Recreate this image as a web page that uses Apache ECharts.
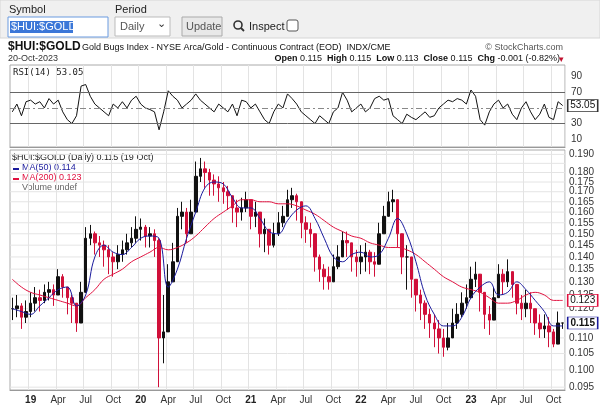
<!DOCTYPE html>
<html>
<head>
<meta charset="utf-8">
<script src="https://cdn.jsdelivr.net/npm/echarts@6/dist/echarts.min.js"></script>
<style>
  html, body { margin: 0; padding: 0; background: #fff; }
  #chart { width: 600px; height: 405px; }
</style>
</head>
<body>
<div id="chart"></div>
<script>
// semi-monthly samples, Nov 2018 .. Oct 2023, plus last bar 19 Oct
const closes = [
  0.120,0.121, 0.117,0.119,
  0.122,0.124, 0.123,0.126, 0.127,0.125, 0.132,0.128, 0.124,0.122, 0.115,0.126,
  0.148,0.150, 0.146,0.145, 0.143,0.140, 0.138,0.141, 0.143,0.146, 0.148,0.152,
  0.153,0.149, 0.150,0.147, 0.110,0.112, 0.130,0.138, 0.158,0.160, 0.150,0.160,
  0.178,0.182, 0.180,0.176, 0.174,0.172, 0.170,0.168, 0.162,0.160, 0.162,0.166,
  0.158,0.160, 0.150,0.152, 0.145,0.150, 0.155,0.158, 0.166,0.168, 0.165,0.155,
  0.152,0.150, 0.140,0.135, 0.132,0.130, 0.136,0.140, 0.147,0.146, 0.140,0.138,
  0.140,0.142, 0.138,0.137, 0.150,0.158, 0.165,0.166, 0.150,0.140, 0.140,0.131,
  0.125,0.122, 0.118,0.115, 0.113,0.110, 0.107,0.110, 0.115,0.118, 0.122,0.124,
  0.131,0.133, 0.126,0.118, 0.116,0.124, 0.133,0.130, 0.134,0.129, 0.122,0.120,
  0.122,0.120, 0.115,0.113, 0.114,0.112, 0.108,0.115, 0.115
];
const highs = [
  0.124,0.125, 0.122,0.123,
  0.126,0.128, 0.127,0.129, 0.130,0.129, 0.135,0.133, 0.128,0.125, 0.120,0.130,
  0.153,0.154, 0.151,0.149, 0.147,0.145, 0.142,0.145, 0.147,0.150, 0.153,0.158,
  0.157,0.154, 0.153,0.152, 0.148,0.125, 0.137,0.146, 0.162,0.165, 0.162,0.166,
  0.186,0.188, 0.186,0.182, 0.179,0.178, 0.175,0.173, 0.168,0.166, 0.167,0.170,
  0.166,0.165, 0.158,0.157, 0.151,0.155, 0.160,0.163, 0.171,0.172, 0.169,0.162,
  0.158,0.155, 0.147,0.141, 0.137,0.136, 0.141,0.145, 0.151,0.151, 0.146,0.143,
  0.145,0.146, 0.143,0.142, 0.155,0.163, 0.170,0.171, 0.158,0.146, 0.145,0.140,
  0.131,0.127, 0.123,0.120, 0.118,0.116, 0.113,0.115, 0.120,0.122, 0.126,0.129,
  0.136,0.138, 0.132,0.124, 0.121,0.128, 0.137,0.135, 0.139,0.134, 0.128,0.125,
  0.127,0.126, 0.120,0.118, 0.118,0.117, 0.113,0.119, 0.115
];
const lows = [
  0.116,0.117, 0.113,0.115,
  0.117,0.119, 0.119,0.122, 0.123,0.121, 0.126,0.124, 0.118,0.115, 0.112,0.116,
  0.133,0.145, 0.141,0.140, 0.136,0.133, 0.132,0.135, 0.138,0.141, 0.144,0.146,
  0.147,0.144, 0.144,0.140, 0.095,0.102, 0.115,0.130, 0.145,0.152, 0.146,0.150,
  0.161,0.175, 0.172,0.168, 0.168,0.165, 0.164,0.161, 0.155,0.153, 0.156,0.160,
  0.152,0.153, 0.144,0.142, 0.141,0.144, 0.149,0.153, 0.160,0.162, 0.156,0.148,
  0.146,0.144, 0.134,0.130, 0.127,0.127, 0.130,0.135, 0.141,0.140, 0.134,0.132,
  0.133,0.134, 0.133,0.132, 0.138,0.150, 0.159,0.160, 0.144,0.133, 0.127,0.124,
  0.119,0.116, 0.113,0.110, 0.107,0.105, 0.104,0.106, 0.110,0.113, 0.117,0.120,
  0.126,0.128, 0.119,0.113, 0.111,0.117, 0.126,0.125, 0.128,0.124, 0.118,0.116,
  0.117,0.115, 0.111,0.110, 0.110,0.107, 0.107,0.109, 0.113
];
// monthly moving averages, Nov 2018 .. Oct 2023
const ma50 = [
  0.120,0.119,
  0.118,0.121,0.124,0.127,0.128,0.121,0.125,0.140,0.145,0.142,0.141,0.144,
  0.148,0.149,0.148,0.128,0.135,0.148,0.160,0.172,0.175,0.174,0.167,0.162,
  0.162,0.157,0.151,0.150,0.156,0.161,0.163,0.157,0.148,0.140,0.138,0.141,
  0.142,0.140,0.141,0.148,0.157,0.150,0.138,0.125,0.118,0.114,0.114,0.117,
  0.124,0.128,0.130,0.125,0.126,0.130,0.127,0.123,0.119,0.114
];
const ma200 = [
  0.131,0.128,
  0.126,0.125,0.124,0.123,0.122,0.121,0.124,0.127,0.131,0.133,0.135,0.138,
  0.140,0.142,0.144,0.143,0.144,0.146,0.149,0.153,0.157,0.160,0.163,0.166,
  0.166,0.165,0.165,0.164,0.164,0.163,0.161,0.159,0.156,0.153,0.151,0.149,
  0.148,0.146,0.145,0.144,0.144,0.143,0.141,0.138,0.135,0.132,0.130,0.128,
  0.127,0.126,0.124,0.122,0.122,0.123,0.125,0.126,0.125,0.123
];
const rsi = [
  45,55, 40,58,
  60,55, 58,50, 62,55, 60,45, 35,30, 40,78, 80,65, 55,50, 45,40, 55,50, 58,50, 60,65,
  55,50, 48,45, 22,45, 72,65, 60,50, 55,60, 68,60, 55,50, 45,55, 50,45, 55,40, 60,58,
  50,55, 45,35, 30,45, 55,50, 68,62, 55,45, 40,35, 30,40, 35,30, 45,50, 70,60, 45,50,
  55,45, 50,62, 65,60, 62,40, 35,30, 42,38, 35,40, 45,38, 40,50, 55,60, 58,62, 60,55,
  73,65, 35,28, 45,55, 60,50, 55,42, 35,50, 58,45, 35,42, 55,38, 35,58, 53.05
];
const priceTicks = [0.095,0.100,0.105,0.110,0.120,0.125,0.130,0.135,0.140,0.145,0.150,0.155,0.160,0.165,0.170,0.175,0.180,0.185,0.190];
const gridTicks = [0.095,0.100,0.105,0.110,0.115,0.120,0.125,0.130,0.135,0.140,0.145,0.150,0.155,0.160,0.165,0.170,0.175,0.180,0.185,0.190];
const rsiTicks = [10,30,70,90];
const monthNames = ['Jan','Feb','Mar','Apr','May','Jun','Jul','Aug','Sep','Oct','Nov','Dec'];

const dates = [];
for (let y = 2018, m = 10; dates.length < closes.length - 1; ) {
  dates.push(y + '-' + (m + 1) + '-1', y + '-' + (m + 1) + '-15');
  m++; if (m === 12) { m = 0; y++; }
}
dates.push('2023-10-19');

const ohlc = closes.map((c, i) => [i ? closes[i - 1] : c, c, lows[i], highs[i]]);
const ma50Data = dates.map((d, i) => i % 2 === 0 ? ma50[i / 2] : null);
const ma200Data = dates.map((d, i) => i % 2 === 0 ? ma200[i / 2] : null);
ma50Data[dates.length - 1] = 0.114;
ma200Data[dates.length - 1] = 0.123;

function isQuarter(i) {
  const p = dates[i].split('-');
  return p[2] === '1' && (+p[1] - 1) % 3 === 0;
}

const chart = echarts.init(document.getElementById('chart'));
const f = 'Arial, "Liberation Sans", sans-serif';

const xBase = {
  type: 'category', data: dates, boundaryGap: true,
  axisLine: { lineStyle: { color: '#999' } },
  axisTick: { show: false },
  splitLine: { show: true, interval: isQuarter, lineStyle: { color: '#e3e3e3' } }
};

function lastBox(value, text, border, bold) {
  return {
    symbol: 'rect', symbolSize: [30, 12], symbolOffset: [20, 0],
    itemStyle: { color: '#fff', borderColor: border, borderWidth: 1 },
    label: { color: '#111', fontSize: 10, fontWeight: bold ? 'bold' : 'normal' },
    data: [{ coord: [dates.length - 1, value], value: text }]
  };
}

chart.setOption({
  animation: false,
  textStyle: { fontFamily: f },
  grid: [
    { left: 10, right: 35, top: 65, height: 82, show: true, borderColor: '#aaa' },
    { left: 10, right: 35, top: 150, height: 242, show: true, borderColor: '#aaa' }
  ],
  xAxis: [
    Object.assign({}, xBase, { gridIndex: 0, axisLabel: { show: false } }),
    Object.assign({}, xBase, {
      gridIndex: 1,
      axisLabel: {
        interval: isQuarter, fontSize: 10, color: '#333', margin: 5,
        formatter: (v) => {
          const p = v.split('-');
          return p[1] === '1' ? '{y|' + p[0].slice(2) + '}' : monthNames[+p[1] - 1];
        },
        rich: { y: { fontWeight: 'bold', fontSize: 10, color: '#222' } }
      }
    })
  ],
  yAxis: [
    {
      gridIndex: 0, position: 'right', min: 0, max: 105,
      axisLine: { show: false }, axisTick: { show: false },
      splitLine: { show: false },
      axisLabel: { customValues: rsiTicks, fontSize: 10, color: '#333', margin: 6 }
    },
    {
      gridIndex: 1, type: 'log', position: 'right', min: 0.0942, max: 0.1925,
      axisLine: { show: false }, axisTick: { show: false },
      splitLine: { show: false },
      axisLabel: {
        customValues: priceTicks, fontSize: 10, color: '#333', margin: 4,
        showMaxLabel: true, hideOverlap: false,
        formatter: (v) => v.toFixed(3)
      }
    }
  ],
  series: [
    {
      type: 'line', xAxisIndex: 0, yAxisIndex: 0, data: rsi,
      symbol: 'none', lineStyle: { color: '#111', width: 1 },
      markLine: {
        silent: true, symbol: 'none', label: { show: false },
        data: [
          { yAxis: 70, lineStyle: { color: '#666', type: 'solid', width: 1 } },
          { yAxis: 30, lineStyle: { color: '#666', type: 'solid', width: 1 } },
          { yAxis: 50, lineStyle: { color: '#888', type: [6, 3, 2, 3], width: 1 } }
        ]
      },
      markPoint: lastBox(53.05, '53.05', '#333', false)
    },
    {
      // horizontal price gridlines
      type: 'custom', xAxisIndex: 1, yAxisIndex: 1, silent: true, z: 0,
      data: gridTicks.map(v => [0, v]),
      renderItem: (params, api) => {
        const y = api.coord([0, api.value(1)])[1];
        const cs = params.coordSys;
        return { type: 'line', shape: { x1: cs.x, y1: y, x2: cs.x + cs.width, y2: y }, style: { stroke: '#e4e4e4', lineWidth: 1 } };
      }
    },
    {
      type: 'line', xAxisIndex: 1, yAxisIndex: 1, data: ma200Data, connectNulls: true,
      smooth: 0.4, symbol: 'none', lineStyle: { color: '#e0103e', width: 1 }, z: 4,
      markPoint: lastBox(0.123, '0.123', '#e0103e', false)
    },
    {
      type: 'candlestick', xAxisIndex: 1, yAxisIndex: 1, data: ohlc,
      barWidth: 3,
      itemStyle: { color: '#111', color0: '#d0103a', borderColor: '#111', borderColor0: '#d0103a', borderWidth: 1 },
      z: 3
    },
    {
      type: 'line', xAxisIndex: 1, yAxisIndex: 1, data: ma50Data, connectNulls: true,
      smooth: 0.4, symbol: 'none', lineStyle: { color: '#1a1a9c', width: 1 }, z: 4,
      markPoint: lastBox(0.115, '0.115', '#1a1a9c', true)
    }
  ],
  graphic: [
    // toolbar
    { type: 'rect', shape: { x: 0, y: 0, width: 600, height: 38 }, style: { fill: '#f0f0f0', stroke: '#d6d6d6' } },
    { type: 'text', left: 9, top: 4, style: { text: 'Symbol', font: '11px ' + f, fill: '#222' } },
    { type: 'text', left: 115, top: 4, style: { text: 'Period', font: '11px ' + f, fill: '#222' } },
    { type: 'rect', shape: { x: 8, y: 17, width: 100, height: 20 }, style: { fill: '#fff', stroke: '#6a9be0' } },
    { type: 'rect', shape: { x: 10, y: 21, width: 63, height: 12 }, style: { fill: '#3b77d8' } },
    { type: 'text', left: 11, top: 21, style: { text: '$HUI:$GOLD', font: '11px ' + f, fill: '#fff' } },
    { type: 'rect', shape: { x: 115, y: 17, width: 55, height: 19 }, style: { fill: '#fff', stroke: '#bbb' } },
    { type: 'text', left: 120, top: 21, style: { text: 'Daily', font: '11px ' + f, fill: '#555' } },
    { type: 'text', left: 157, top: 18, style: { text: '⌄', font: '11px ' + f, fill: '#333' } },
    { type: 'rect', shape: { x: 182, y: 17, width: 40, height: 19 }, style: { fill: '#e8e8e8', stroke: '#aaa' } },
    { type: 'text', left: 186, top: 21, style: { text: 'Update', font: '11px ' + f, fill: '#555' } },
    { type: 'circle', shape: { cx: 238, cy: 25, r: 4 }, style: { fill: 'none', stroke: '#333', lineWidth: 1.6 } },
    { type: 'line', shape: { x1: 241, y1: 28, x2: 244, y2: 31 }, style: { stroke: '#333', lineWidth: 1.8 } },
    { type: 'text', left: 249, top: 21, style: { text: 'Inspect', font: '11px ' + f, fill: '#222' } },
    { type: 'rect', shape: { x: 287, y: 20, width: 11, height: 11, r: 2 }, style: { fill: '#fff', stroke: '#555' } },
    // header
    { type: 'text', left: 8, top: 41, style: { text: '$HUI:$GOLD', font: 'bold 12px ' + f, fill: '#111' } },
    { type: 'text', left: 82, top: 43, style: { text: 'Gold Bugs Index - NYSE Arca/Gold - Continuous Contract (EOD)  INDX/CME', font: '9px ' + f, fill: '#111' } },
    { type: 'text', right: 37, top: 43, style: { text: '© StockCharts.com', font: '9px ' + f, fill: '#555' } },
    { type: 'text', left: 8, top: 54, style: { text: '20-Oct-2023', font: '9px ' + f, fill: '#333' } },
    { type: 'text', right: 40, top: 54, style: {
      text: '{b|Open} 0.115  {b|High} 0.115  {b|Low} 0.113  {b|Close} 0.115  {b|Chg} -0.001 (-0.82%)',
      font: '9px ' + f, fill: '#111', rich: { b: { fontWeight: 'bold', fontSize: 9, fontFamily: f } } } },
    { type: 'text', right: 36, top: 55, style: { text: '▾', font: '9px ' + f, fill: '#c0102e' } },
    // panel legends
    { type: 'text', left: 13, top: 68, style: { text: 'RSI(14) 53.05', font: '9px "DejaVu Sans Mono", monospace', fill: '#222' } },
    { type: 'text', left: 12, top: 153, style: { text: '$HUI:$GOLD (Daily) 0.115 (19 Oct)', font: '9px ' + f, fill: '#222' } },
    { type: 'rect', shape: { x: 13, y: 168, width: 6, height: 2 }, style: { fill: '#1a1a9c' } },
    { type: 'text', left: 22, top: 163, style: { text: 'MA(50) 0.114', font: '9px ' + f, fill: '#1a1a9c' } },
    { type: 'rect', shape: { x: 13, y: 178, width: 6, height: 2 }, style: { fill: '#e0103e' } },
    { type: 'text', left: 22, top: 173, style: { text: 'MA(200) 0.123', font: '9px ' + f, fill: '#e0103e' } },
    { type: 'text', left: 22, top: 183, style: { text: 'Volume undef', font: '9px ' + f, fill: '#666' } }
  ]
});
</script>
</body>
</html>
